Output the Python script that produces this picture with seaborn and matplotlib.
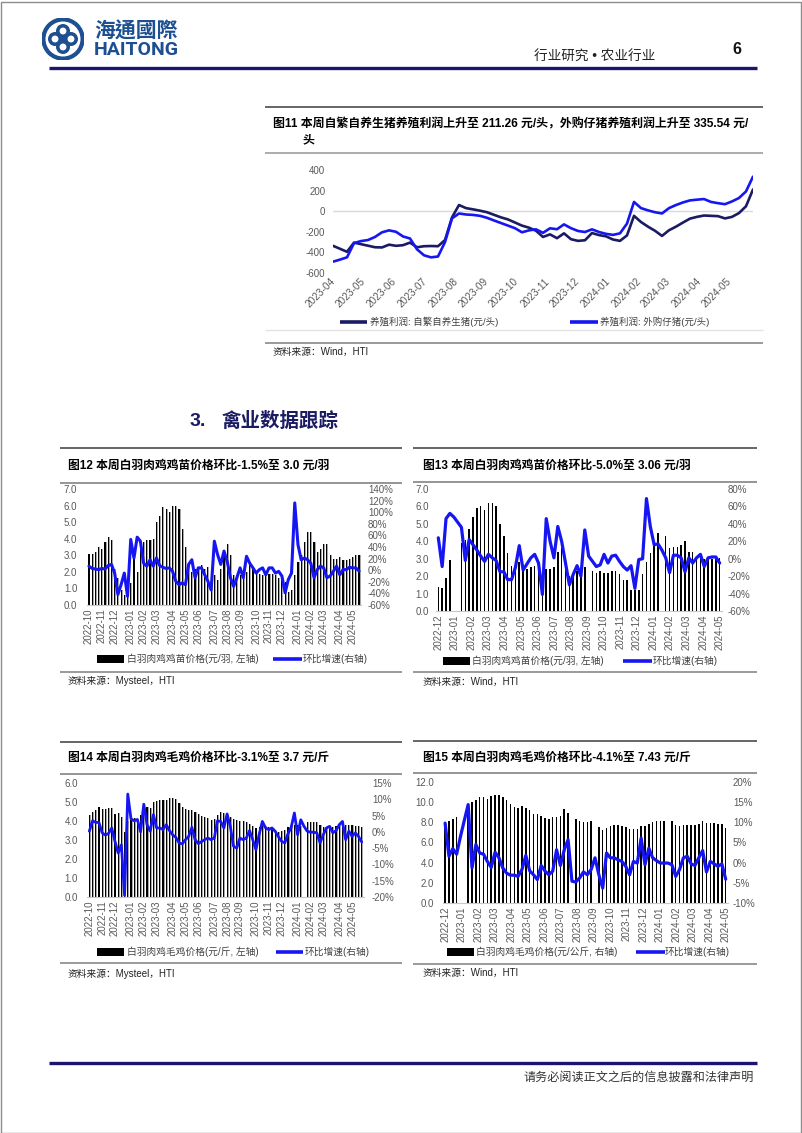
import numpy as np
import pandas as pd
import matplotlib
matplotlib.use('Agg')
import matplotlib.pyplot as plt
import matplotlib.dates as mdates
from matplotlib.lines import Line2D
from matplotlib.patches import Rectangle, Circle
from matplotlib.ticker import FuncFormatter
import seaborn as sns

# ---------------- data ----------------
# Fig 11: weekly hog farming profit (yuan/head)
profit_self = [-336, -365, -394, -305, -320, -335, -350, -352, -325, -336,
               -330, -305, -350, -340, -338, -340, -280, -60, 60, 30,
               18, 5, -10, -35, -60, -80, -110, -140, -160, -190,
               -250, -225, -262, -215, -272, -288, -282, -212, -232, -244,
               -275, -288, -235, -45, -105, -150, -190, -240, -185, -150,
               -110, -72, -55, -42, -45, -48, -70, -55, -18, 48, 211.26]
profit_bought = [-490, -470, -448, -310, -290, -280, -250, -205, -186, -200,
                 -245, -265, -370, -428, -448, -440, -300, -70, -22, -32,
                 -36, -45, -64, -90, -115, -140, -165, -205, -186, -176,
                 -210, -166, -175, -128, -165, -192, -202, -176, -202, -220,
                 -230, -215, -120, 90, 30, 8, -10, -22, 30, 60,
                 85, 105, 112, 118, 90, 78, 68, 95, 128, 192, 335.54]

# Fig 12: chick price (yuan/chick, Mysteel) and w/w change (%)
chick12_price = [3.1, 3.1, 3.2, 3.5, 3.4, 3.8, 4.1, 3.9, 2.2, 1.6,
                 0.9, 0.6, 1.5, 1.3, 3.0, 2.0, 3.6, 3.8, 3.9, 3.9,
                 4.0, 5.0, 5.4, 5.9, 5.8, 5.6, 6.0, 6.0, 5.8, 4.6,
                 3.5, 2.5, 2.0, 2.2, 2.2, 2.4, 2.2, 2.3, 2.2, 1.8,
                 1.5, 2.2, 3.2, 3.7, 3.0, 1.8, 1.8, 1.8, 1.6, 2.0,
                 2.4, 2.2, 2.0, 1.9, 1.8, 1.9, 1.9, 1.9, 1.8, 1.6,
                 1.5, 1.4, 0.8, 0.9, 1.8, 2.6, 3.0, 3.8, 4.4, 4.4,
                 3.8, 3.2, 3.4, 3.7, 3.7, 3.0, 2.8, 2.8, 2.9, 2.7,
                 2.7, 2.8, 2.9, 3.0, 3.0]
chick12_chg = [7, 3, 2, 1, 3, 2, 8, 10, -5, -42,
               -25, -5, -45, 53, 21, 57, 50, 12, 7, 18,
               7, 21, 8, 5, 3, 4, -2, -19, -25, -22,
               -25, 10, 18, -13, 4, 4, -8, -19, -34, 50,
               27, 10, 33, 15, -13, -28, -13, 4, -13, 24,
               12, 4, -5, 1, 4, -8, 4, 4, -5, -2,
               -10, -39, -16, -5, 116, 44, 18, 21, 18, 12,
               -13, 1, 7, 4, -13, -10, -2, 7, -8, 1,
               1, 5, 4, 4, -1.5]

# Fig 13: chick price (yuan/chick, Wind) and w/w change (%)
nan = np.nan
chick13_price = [1.4, 1.3, 1.9, 2.9, nan, nan, 3.9, 4.1, 4.7, 5.4,
                 5.9, 6.0, 5.8, 6.2, 6.2, 6.0, 5.0, 4.3, 3.3, 2.6,
                 2.5, 2.8, 2.4, 2.4, 2.5, 2.6, 2.3, 2.0, 2.4, 2.4,
                 2.5, 3.4, 3.6, 2.4, 2.0, 2.1, 2.3, 2.4, 2.5, nan,
                 2.3, 2.2, 2.3, 2.2, 2.2, 2.3, 2.3, 2.1, 1.8, 1.8,
                 1.2, 1.2, 1.2, 2.1, 2.8, 3.3, 3.8, 4.5, nan, 4.3,
                 3.6, 3.7, 3.7, 3.8, 4.0, 3.4, 3.4, 3.1, 3.3, 3.0,
                 3.0, 3.0, 3.1, 3.06]
chick13_chg = [24, -9, 46, 52, 48, 42, 36, -2, 22, 16,
               10, 3, -3, 5, 1, -2, -15, -15, -24, -24,
               -10, 15, -13, -6, 1, 5, -5, -41, 46, 20,
               1, 37, 20, -5, -30, -18, -8, -20, 33, 3,
               -3, -9, -7, 5, -5, 3, 4, -3, -9, -13,
               -8, -34, -1, 0, 69, 37, 16, 17, 10, 1,
               -16, 4, 4, 1, -15, 1, -5, 1, 5, -9,
               1, 2, 2, -5]

# Fig 14: broiler price (yuan/jin, Mysteel) and w/w change (%)
broiler14_price = [4.3, 4.45, 4.56, 4.72, 4.65, 4.65, 4.68, 4.68, 4.37, 4.42,
                   4.2, 3.42, 4.0, 4.07, 4.16, 4.1, 4.3, 4.6, 4.72, 4.7,
                   5.0, 5.03, 5.1, 5.12, 5.1, 5.2, 5.2, 5.15, 4.95, 4.72,
                   4.63, 4.56, 4.6, 4.5, 4.37, 4.28, 4.2, 4.16, 4.07, 4.1,
                   4.3, 4.5, 4.42, 4.3, 4.2, 4.1, 4.03, 4.0, 3.98, 3.95,
                   3.86, 3.75, 3.65, 3.7, 3.72, 3.72, 3.7, 3.6, 3.49, 3.4,
                   3.45, 3.55, 3.68, 3.8, 3.8, 3.78, 3.75, nan, 3.93, 3.93,
                   3.93, 3.93, 3.77, 3.7, 3.68, 3.68, 3.66, 3.72, 3.8, 3.82,
                   3.8, 3.8, 3.77, 3.75, 3.75, 3.67]
broiler14_chg = [0.2, 3.4, 2.9, 2.9, -0.3, -1.0, -0.5, 1.2, -2.9, -6.5,
                 -4.0, -19.5, 11.6, 4.0, 3.4, 3.8, 0.0, 8.5, 2.2, 0.2,
                 5.3, 1.2, 1.2, 0.7, 2.2, 0.4, -0.9, -1.7, -3.4, -3.7,
                 -2.4, -1.4, 1.4, -2.4, -3.6, -3.0, -2.4, -1.9, -2.4, -1.9,
                 3.4, 3.2, 1.2, 5.5, 1.7, -4.4, -5.0, -1.9, -2.4, -1.9,
                 0.4, -2.4, -5.5, -0.8, 3.2, 1.2, 0.7, 1.2, 0.2, -1.5,
                 -2.9, -3.4, -0.6, 1.4, 5.8, -0.9, 3.7, 1.7, 0.2, -0.1,
                 -0.1, -0.3, -3.4, -0.9, 1.2, 1.7, -0.3, 0.4, 2.2, 3.2,
                 -2.4, 0.2, -1.4, -0.3, -1.4, -3.1]

# Fig 15: broiler price (yuan/kg, Wind) and w/w change (%)
broiler15_price = [7.93, 8.1, 8.36, 8.5, nan, nan, 9.6, 10.0, 10.25, 10.5,
                   10.5, 10.35, 10.6, 10.7, 10.7, 10.5, 10.25, 9.85, 9.5, 9.4,
                   9.6, 9.4, 9.2, 8.8, 8.8, 8.6, 8.4, 8.3, 8.5, 8.5,
                   8.6, 9.3, 8.9, nan, 8.36, 8.15, 8.0, 8.0, 8.1, nan,
                   7.5, 7.27, 7.44, 7.6, 7.7, 7.7, 7.6, 7.5, 7.34, 7.34,
                   7.3, 7.67, 7.6, 7.83, 8.0, 8.1, 8.1, 8.1, nan, 8.1,
                   7.77, 7.67, 7.7, 7.75, 7.75, 7.75, 7.8, 8.1, 7.93, 7.93,
                   7.9, 7.83, 7.8, 7.43]
broiler15_chg = [9.8, 1.6, 3.5, 2.1, 6.5, 10.5, 14.4, -1.3, 4.5, 2.4,
                 2.1, 0.3, -1.2, 2.6, 1.2, -1.3, -2.6, -3.1, -3.1, -3.4,
                 -1.7, 1.8, -2.0, -3.0, -4.2, -0.7, -2.1, -3.0, -2.1, 3.2,
                 -0.7, 3.2, 5.7, -4.6, -4.8, -3.8, -2.3, -3.0, -1.7, 1.2,
                 -3.0, -6.3, 2.4, 1.2, 1.2, 0.7, 0.3, -0.9, -3.0, 0.3,
                 -0.1, 6.1, -0.5, 3.6, 1.2, 0.5, -0.1, -0.1, -0.1, -0.5,
                 -3.4, -1.7, 1.2, 1.6, -0.3, -0.7, 1.2, 3.0, -2.3, 0.3,
                 -0.3, -0.9, -0.3, -4.1]

months_13_15 = ['2022-12', '2023-01', '2023-02', '2023-03', '2023-04', '2023-05',
                '2023-06', '2023-07', '2023-08', '2023-09', '2023-10', '2023-11',
                '2023-12', '2024-01', '2024-02', '2024-03', '2024-04', '2024-05']

# ---------------- style ----------------
sns.set_theme(style='white')
plt.rcParams['font.family'] = ['Liberation Sans', 'Noto Sans CJK SC']
plt.rcParams['axes.unicode_minus'] = False

BLUE = '#1616f2'
NAVY = '#1b1b63'
HDR = '#1c1470'
LOGO = '#1d4f91'
TC = '#595959'
TITLE_FS = 8.5

W, H = 802, 1133
fig = plt.figure(figsize=(W / 100, H / 100), dpi=100)
fig.patch.set_facecolor('white')


def fx(x):
    return x / W


def fy(y):
    return 1 - y / H


def rect(x0, y0, x1, y1):
    return [x0 / W, 1 - y1 / H, (x1 - x0) / W, (y1 - y0) / H]


def hline(x0, x1, y, color, lw):
    fig.add_artist(Line2D([fx(x0), fx(x1)], [fy(y), fy(y)], transform=fig.transFigure,
                          color=color, lw=lw, solid_capstyle='butt'))


def txt(x, y, s, **kw):
    kw.setdefault('va', 'center')
    fig.text(fx(x), fy(y), s, **kw)


def leg_bar(x0, x1, y, h=8):
    fig.add_artist(Rectangle((fx(x0), fy(y + h / 2)), (x1 - x0) / W, h / H,
                             transform=fig.transFigure, color='black', lw=0))


# page border
fig.add_artist(Rectangle((0.5 / W, 0.5 / H), (W - 2) / W, (H - 2) / H, transform=fig.transFigure,
                         fill=False, edgecolor='#8c8c8c', lw=1))

# ---------------- header ----------------
axl = fig.add_axes(rect(42, 18, 84, 60))
axl.set_xlim(-1, 1)
axl.set_ylim(-1, 1)
axl.set_aspect('equal')
axl.axis('off')
axl.add_patch(Circle((0, 0), 1.0, color=LOGO))
axl.add_patch(Circle((0, 0), 0.80, color='white'))
for cx, cy in [(0, 0.38), (0, -0.38), (0.38, 0), (-0.38, 0)]:
    axl.add_patch(Circle((cx, cy), 0.30, color=LOGO))
    axl.add_patch(Circle((cx, cy), 0.13, color='white'))
axl.add_patch(Circle((0, 0), 0.12, color=LOGO))
txt(94, 31, '海通國際', fontsize=15, fontweight='bold', color=LOGO,
    family=['Noto Sans CJK TC', 'Noto Sans CJK SC'])
txt(94, 50, 'HAITONG', fontsize=14, fontweight='bold', color=LOGO, family=['Roboto', 'Liberation Sans'])
txt(655, 57, '行业研究 • 农业行业', fontsize=9.8, color='#222222', ha='right')
txt(737, 49, '6', fontsize=11.5, fontweight='bold', color='#111111', ha='center')
hline(49, 757, 68, HDR, 2.4)

# footer
hline(49, 757, 1063, HDR, 2.4)
txt(754, 1078, '请务必阅读正文之后的信息披露和法律声明', fontsize=8.7, color='#333333', ha='right')

# section heading
txt(190, 421, '3.', fontsize=14, fontweight='bold', color=NAVY)
txt(222, 421, '禽业数据跟踪', fontsize=14, fontweight='bold', color=NAVY)

# ---------------- Fig 11 ----------------
hline(265, 763, 107, '#595959', 1.3)
hline(265, 763, 153, '#a6a6a6', 1.3)
hline(265, 763, 330, '#e3e3e3', 1.0)
hline(265, 763, 343, '#7f7f7f', 1.1)
txt(273, 124, '图11 本周自繁自养生猪养殖利润上升至 211.26 元/头，外购仔猪养殖利润上升至 335.54 元/',
    fontsize=8.6, fontweight='bold', color='black')
txt(303, 140, '头', fontsize=8.6, fontweight='bold', color='black')
txt(273, 352, '资料来源：Wind，HTI', fontsize=7, color='#222222')

dates11 = pd.date_range('2023-03-31', periods=len(profit_self), freq='7D')
df11 = pd.DataFrame({'date': dates11, 'self': profit_self, 'bought': profit_bought})
ax11 = fig.add_axes(rect(333, 170, 753, 273))
ax11.set_facecolor('none')
ax11.axhline(0, color='#d9d9d9', lw=1.0, zorder=0)
sns.lineplot(data=df11, x='date', y='self', ax=ax11, color=NAVY, linewidth=1.9)
sns.lineplot(data=df11, x='date', y='bought', ax=ax11, color=BLUE, linewidth=1.9)
ax11.set_xlim(dates11[0], dates11[-1])
ax11.set_ylim(-600, 400)
ax11.set_yticks(np.arange(-600, 401, 200))
ax11.xaxis.set_major_locator(mdates.MonthLocator())
ax11.xaxis.set_major_formatter(mdates.DateFormatter('%Y-%m'))
ax11.set_xlabel('')
ax11.set_ylabel('')
for s in ax11.spines.values():
    s.set_visible(False)
ax11.tick_params(axis='y', length=0, pad=5.5, labelsize=7, labelcolor=TC)
ax11.tick_params(axis='x', length=0, pad=5, labelsize=7.2, labelcolor=TC)
plt.setp(ax11.get_xticklabels(), rotation=45, ha='right', va='center', rotation_mode='anchor')
hline(340, 367, 322, NAVY, 2.6)
txt(370, 322, '养殖利润: 自繁自养生猪(元/头)', fontsize=6.8, color='#404040')
hline(570, 598, 322, BLUE, 2.6)
txt(600, 322, '养殖利润: 外购仔猪(元/头)', fontsize=6.8, color='#404040')


# ---------------- bar + line panels ----------------
def bar_panel(px, bars, line, lmax, lstep, lfmt, rmin, rmax, rstep, tick_pos, tick_lbls,
              striped, lpad, rpad, bw, line_w):
    n = len(bars)
    idx = np.arange(n)
    ax = fig.add_axes(rect(*px))
    ax.set_facecolor('none')
    dfb = pd.DataFrame({'i': idx, 'v': bars}).dropna()
    sns.barplot(data=dfb, x='i', y='v', native_scale=True, width=bw, color='#000000',
                saturation=1, errorbar=None, linewidth=0, edgecolor='none', ax=ax)
    if striped:
        ax.bar(dfb['i'] + bw / 2 + 0.15, dfb['v'], width=0.3, color='#a8a8a8', linewidth=0)
    ax.set_ylim(0, lmax)
    ax.set_yticks(np.arange(0, lmax + 0.001, lstep))
    ax.yaxis.set_major_formatter(FuncFormatter(lambda v, p: lfmt.format(v)))
    ax2 = ax.twinx()
    dfl = pd.DataFrame({'i': idx, 'g': line})
    sns.lineplot(data=dfl, x='i', y='g', ax=ax2, color=BLUE, linewidth=line_w)
    ax2.set_ylim(rmin, rmax)
    ax2.set_yticks(np.arange(rmin, rmax + 0.001, rstep))
    ax2.yaxis.set_major_formatter(FuncFormatter(lambda v, p: f'{v:.0f}%'))
    ax.set_xlim(-0.6, n - 0.4)
    ax.set_xticks(tick_pos)
    ax.set_xticklabels(tick_lbls, rotation=90)
    for a in (ax, ax2):
        a.set_xlabel('')
        a.set_ylabel('')
        for s in a.spines.values():
            s.set_visible(False)
    ax.spines['bottom'].set_visible(True)
    ax.spines['bottom'].set_color('#c8c8c8')
    ax.spines['bottom'].set_linewidth(0.8)
    ax.tick_params(axis='y', length=0, pad=lpad, labelsize=7, labelcolor=TC)
    ax.tick_params(axis='x', length=0, pad=2.5, labelsize=7, labelcolor=TC)
    ax2.tick_params(axis='y', length=0, pad=rpad, labelsize=7, labelcolor=TC)
    return ax, ax2


def month_ticks(start, n):
    d = pd.date_range(start, periods=n, freq='7D')
    m = d.to_period('M')
    pos = [i for i in range(n) if i == 0 or m[i] != m[i - 1]]
    return pos, [d[i].strftime('%Y-%m') for i in pos]


# Fig 12
hline(60, 402, 448, '#595959', 1.3)
hline(60, 402, 483, '#8c8c8c', 1.3)
hline(60, 402, 672, '#7f7f7f', 1.1)
txt(68, 466, '图12 本周白羽肉鸡鸡苗价格环比-1.5%至 3.0 元/羽', fontsize=TITLE_FS, fontweight='bold', color='black')
p12, l12 = month_ticks('2022-10-07', len(chick12_price))
bar_panel((87, 489, 361, 605), chick12_price, chick12_chg, 7.0, 1.0, '{:.1f}', -60, 140, 20,
          p12, l12, True, 7, 5, 0.36, 2.2)
leg_bar(97, 124, 659)
txt(127, 659, '白羽肉鸡鸡苗价格(元/羽, 左轴)', fontsize=7, color='#404040')
hline(273, 302, 659, BLUE, 2.6)
txt(303, 659, '环比增速(右轴)', fontsize=7, color='#404040')
txt(68, 681, '资料来源：Mysteel，HTI', fontsize=7, color='#222222')

# Fig 13
hline(413, 757, 448, '#595959', 1.3)
hline(413, 757, 482, '#8c8c8c', 1.3)
hline(413, 757, 672, '#7f7f7f', 1.1)
txt(423, 466, '图13 本周白羽肉鸡鸡苗价格环比-5.0%至 3.06 元/羽', fontsize=TITLE_FS, fontweight='bold', color='black')
n13 = len(chick13_price)
bar_panel((436, 489, 722, 611), chick13_price, chick13_chg, 7.0, 1.0, '{:.1f}', -60, 80, 20,
          np.linspace(0, n13 - 1, len(months_13_15)), months_13_15, False, 5, 4.3, 0.4, 2.3)
leg_bar(443, 470, 661)
txt(472, 661, '白羽肉鸡鸡苗价格(元/羽, 左轴)', fontsize=7, color='#404040')
hline(623, 652, 661, BLUE, 2.6)
txt(653, 661, '环比增速(右轴)', fontsize=7, color='#404040')
txt(423, 682, '资料来源：Wind，HTI', fontsize=7, color='#222222')

# Fig 14
hline(60, 402, 742, '#595959', 1.3)
hline(60, 402, 774, '#8c8c8c', 1.3)
hline(60, 402, 963, '#7f7f7f', 1.1)
txt(68, 758, '图14 本周白羽肉鸡毛鸡价格环比-3.1%至 3.7 元/斤', fontsize=TITLE_FS, fontweight='bold', color='black')
p14, l14 = month_ticks('2022-10-07', len(broiler14_price))
bar_panel((87.4, 783, 363.6, 897), broiler14_price, broiler14_chg, 6.0, 1.0, '{:.1f}', -20, 15, 5,
          p14, l14, True, 6.8, 6, 0.36, 2.0)
leg_bar(97, 124, 952)
txt(127, 952, '白羽肉鸡毛鸡价格(元/斤, 左轴)', fontsize=7, color='#404040')
hline(276, 303, 952, BLUE, 2.6)
txt(305, 952, '环比增速(右轴)', fontsize=7, color='#404040')
txt(68, 974, '资料来源：Mysteel，HTI', fontsize=7, color='#222222')

# Fig 15
hline(413, 757, 741, '#595959', 1.3)
hline(413, 757, 773, '#8c8c8c', 1.3)
hline(413, 757, 964, '#7f7f7f', 1.1)
txt(423, 758, '图15 本周白羽肉鸡毛鸡价格环比-4.1%至 7.43 元/斤', fontsize=TITLE_FS, fontweight='bold', color='black')
n15 = len(broiler15_price)
bar_panel((442.8, 782, 728, 903), broiler15_price, broiler15_chg, 12.0, 2.0, '{:.1f}', -10, 20, 5,
          np.linspace(0, n15 - 1, len(months_13_15)), months_13_15, False, 6.3, 3.6, 0.4, 2.3)
leg_bar(447, 474, 952)
txt(476, 952, '白羽肉鸡毛鸡价格(元/公斤, 右轴)', fontsize=7, color='#404040')
hline(636, 665, 952, BLUE, 2.6)
txt(665, 952, '环比增速(右轴)', fontsize=7, color='#404040')
txt(423, 973, '资料来源：Wind，HTI', fontsize=7, color='#222222')

fig.savefig('out.png', dpi=100, facecolor='white')
